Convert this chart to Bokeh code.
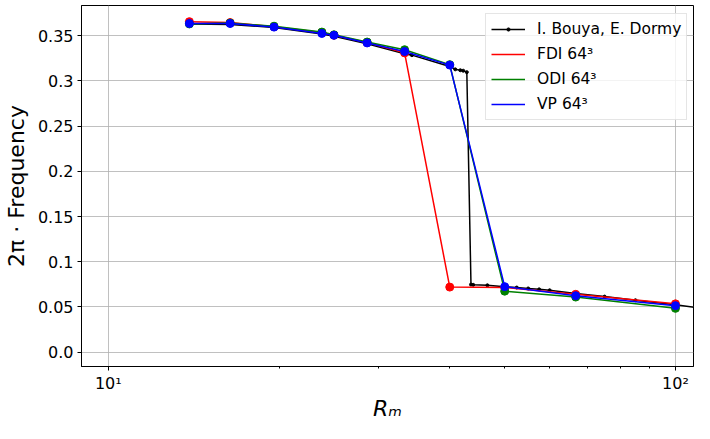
from bokeh.plotting import figure
from bokeh.models import Range1d, FixedTicker, Legend, LegendItem
from bokeh.embed import file_html
from bokeh.resources import INLINE

# --- data ---
Rm_sim = [13.9, 16.4, 19.6, 23.8, 25.0, 28.6, 33.3, 40.0, 50.0, 66.7, 100.0]
f_fdi = [0.3655, 0.3645, 0.3600, 0.3535, 0.3505, 0.3425, 0.3310, 0.0720, 0.0715, 0.0640, 0.0535]
Rm_odi = [13.9, 16.4, 19.6, 23.8, 25.0, 28.6, 33.3, 40.0, 50.0, 66.7, 100.0]
f_odi = [0.3630, 0.3640, 0.3605, 0.3540, 0.3510, 0.3430, 0.3345, 0.3180, 0.0675, 0.0610, 0.0485]
Rm_vp = [13.9, 16.4, 19.6, 23.8, 25.0, 28.6, 33.3, 40.0, 50.0, 66.7, 100.0]
f_vp = [0.3635, 0.3635, 0.3595, 0.3525, 0.3505, 0.3420, 0.3325, 0.3175, 0.0725, 0.0625, 0.0515]

Rm_ref = [13.9, 16.4, 19.6, 23.8, 25.0, 28.6, 33.3, 34.3, 40.0, 40.9, 41.75, 42.25, 42.87,
          43.6, 44.0, 46.6, 50.0, 52.5, 55.0, 57.5, 60.0, 66.7, 75.0, 85.0, 100.0, 110.0]
f_ref = [0.3630, 0.3625, 0.3590, 0.3520, 0.3495, 0.3410, 0.3300, 0.3285, 0.3160, 0.3128, 0.3118, 0.3113, 0.3097,
         0.0748, 0.0745, 0.0740, 0.0725, 0.0715, 0.0705, 0.0695, 0.0685, 0.0650, 0.0615, 0.0575, 0.0525, 0.0490]

y_ticks = [0.0, 0.05, 0.1, 0.15, 0.2, 0.25, 0.3, 0.35]
y_labels = ["0.0", "0.05", "0.1", "0.15", "0.2", "0.25", "0.3", "0.35"]
x_ticks = [10, 100]
x_labels = ["10\u00b9", "10\u00b2"]
x_minor = [20, 30, 40, 50, 60, 70, 80, 90]

FONT = "DejaVu Sans"

p = figure(width=694, height=423, x_axis_type="log",
           x_range=Range1d(8.97, 107.6), y_range=Range1d(-0.0158, 0.3834),
           output_backend="svg", toolbar_location=None,
           min_border_left=73, min_border_right=1, min_border_top=5, min_border_bottom=50)
p.background_fill_color = "white"
p.border_fill_color = "white"
p.outline_line_color = "black"
p.outline_line_width = 1

# axes
p.xaxis.ticker = FixedTicker(ticks=x_ticks, minor_ticks=x_minor)
p.xaxis.major_label_overrides = {t: l for t, l in zip(x_ticks, x_labels)}
p.yaxis.ticker = FixedTicker(ticks=y_ticks)
p.yaxis.major_label_overrides = {t: l for t, l in zip(y_ticks, y_labels)}
for ax in (p.xaxis, p.yaxis):
    ax.axis_line_color = "black"
    ax.major_tick_line_color = "black"
    ax.major_tick_in = 0
    ax.major_tick_out = 4
    ax.major_label_text_font = FONT
    ax.major_label_text_font_size = "16px"
    ax.major_label_text_color = "black"
    ax.axis_label_text_font = FONT
    ax.axis_label_text_font_size = "22px"
    ax.axis_label_text_color = "black"
p.xaxis.major_label_standoff = 3
p.yaxis.major_label_standoff = 4
p.xaxis.minor_tick_line_color = "black"
p.xaxis.minor_tick_in = 0
p.xaxis.minor_tick_out = 2
p.yaxis.minor_tick_line_color = None
p.xaxis.axis_label = "R\u2098"
p.xaxis.axis_label_text_font_style = "italic"
p.xaxis.axis_label_standoff = 0
p.yaxis.axis_label = "2\u03c0 \u00b7 Frequency"
p.yaxis.axis_label_text_font_style = "normal"
p.yaxis.axis_label_standoff = 6

# grid
p.xgrid.ticker = FixedTicker(ticks=x_ticks)
p.ygrid.ticker = FixedTicker(ticks=y_ticks)
for g in (p.xgrid, p.ygrid):
    g.grid_line_color = "#b0b0b0"
    g.grid_line_width = 0.8

# data
bl = p.line(Rm_ref, f_ref, line_color="black", line_width=1.5)
bs = p.scatter(Rm_ref, f_ref, size=3, color="black")
rl = p.line(Rm_sim, f_fdi, line_color="#ff0000", line_width=1.5)
p.scatter(Rm_sim, f_fdi, size=8, color="#ff0000")
gl = p.line(Rm_odi, f_odi, line_color="#008000", line_width=1.5)
p.scatter(Rm_odi, f_odi, size=8, color="#008000")
vl = p.line(Rm_vp, f_vp, line_color="#0000ff", line_width=1.5)
p.scatter(Rm_vp, f_vp, size=8, color="#0000ff")

legend = Legend(items=[
    LegendItem(label="I. Bouya, E. Dormy", renderers=[bl, bs]),
    LegendItem(label="FDI 64\u00b3", renderers=[rl]),
    LegendItem(label="ODI 64\u00b3", renderers=[gl]),
    LegendItem(label="VP 64\u00b3", renderers=[vl]),
], location=(404, 246))
legend.label_text_font = FONT
legend.label_text_font_size = "15.5px"
legend.label_text_color = "black"
legend.glyph_width = 34
legend.glyph_height = 8
legend.label_height = 20
legend.label_standoff = 12
legend.spacing = 5
legend.padding = 5
legend.margin = 0
legend.border_line_color = "#cccccc"
legend.border_line_width = 1
legend.background_fill_color = "white"
legend.background_fill_alpha = 0.8
p.add_layout(legend)

open("out.html", "w").write(file_html(p, INLINE))
